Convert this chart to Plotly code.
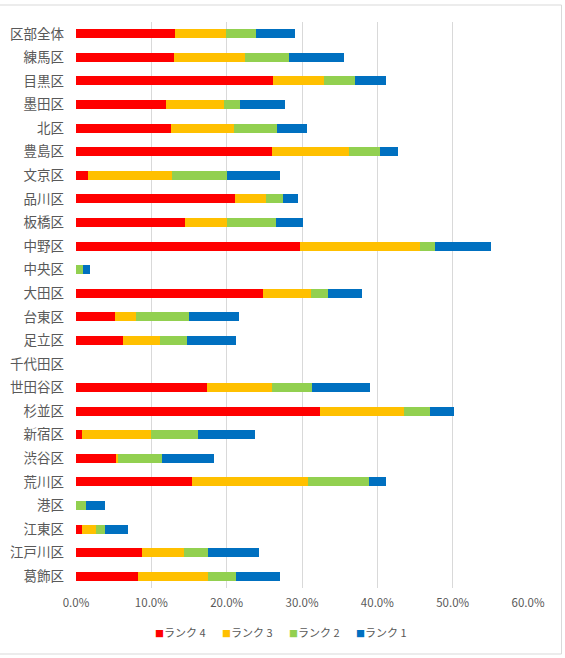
import plotly.graph_objects as go

categories = ["区部全体", "練馬区", "目黒区", "墨田区", "北区", "豊島区", "文京区", "品川区",
              "板橋区", "中野区", "中央区", "大田区", "台東区", "足立区", "千代田区", "世田谷区",
              "杉並区", "新宿区", "渋谷区", "荒川区", "港区", "江東区", "江戸川区", "葛飾区"]

rank4 = [13.1, 13.05, 26.1, 11.95, 12.65, 26.0, 1.6, 21.1, 14.5, 29.7, 0.0, 24.8,
         5.2, 6.3, 0.0, 17.35, 32.4, 0.75, 5.4, 15.45, 0.0, 0.85, 8.7, 8.2]
rank3 = [6.8, 9.4, 6.8, 7.75, 8.35, 10.2, 11.15, 4.1, 5.6, 16.0, 0.0, 6.4,
         2.7, 4.8, 0.0, 8.65, 11.2, 9.25, 0.2, 15.35, 0.0, 1.8, 5.65, 9.3]
rank2 = [4.0, 5.8, 4.2, 2.1, 5.7, 4.2, 7.35, 2.3, 6.4, 1.9, 0.9, 2.3,
         7.15, 3.6, 0.0, 5.3, 3.4, 6.2, 5.8, 8.1, 1.33, 1.15, 3.15, 3.8]
rank1 = [5.2, 7.3, 4.0, 6.0, 4.0, 2.3, 6.95, 2.0, 3.6, 7.5, 1.0, 4.4,
         6.65, 6.6, 0.0, 7.7, 3.2, 7.5, 6.9, 2.3, 2.57, 3.15, 6.85, 5.75]

series_names = ["ランク 4", "ランク 3", "ランク 2", "ランク 1"]
series_values = [rank4, rank3, rank2, rank1]
series_colors = ["#FF0000", "#FFC000", "#92D050", "#0070C0"]

x_ticks = [0, 10, 20, 30, 40, 50, 60]
x_tick_labels = ["0.0%", "10.0%", "20.0%", "30.0%", "40.0%", "50.0%", "60.0%"]

FONT = "Noto Sans CJK JP, Noto Sans, sans-serif"

fig = go.Figure()
for name, vals, col in zip(series_names, series_values, series_colors):
    fig.add_trace(go.Bar(
        y=categories, x=vals, name=name, orientation="h",
        marker=dict(color=col, line=dict(width=0)),
        showlegend=False,
    ))

W, H = 565, 658
L, R, T, B = 76, 37, 22, 70
pw, ph = W - L - R, H - T - B

def px_x(p):
    return (p - L) / pw

def px_y(p):
    return (H - B - p) / ph

# legend drawn as annotations (compact Excel-style legend)
legend_start, legend_step = 153, 67
annotations = []
for i, (name, col) in enumerate(zip(series_names, series_colors)):
    annotations.append(dict(
        xref="paper", yref="paper",
        x=px_x(legend_start + i * legend_step), y=px_y(632),
        xanchor="left", yanchor="middle", showarrow=False,
        text=f"<span style='color:{col};font-size:9px'>■</span>{name}",
        font=dict(family=FONT, size=11, color="#595959"),
    ))

fig.update_layout(
    width=W, height=H,
    margin=dict(l=L, r=R, t=T, b=B, autoexpand=False),
    barmode="stack", bargap=0.62,
    plot_bgcolor="white", paper_bgcolor="white",
    font=dict(family=FONT, color="#595959"),
    xaxis=dict(range=[0, 60], tickvals=x_ticks, ticktext=x_tick_labels,
               showgrid=True, gridcolor="#d9d9d9", gridwidth=1,
               zeroline=False, showline=False, ticks="", ticklabelstandoff=6,
               tickfont=dict(size=11.5, color="#595959")),
    yaxis=dict(autorange="reversed", showgrid=False, zeroline=False, showline=False,
               ticks="", ticklabelstandoff=11,
               tickfont=dict(size=13.5, color="#595959")),
    showlegend=False,
    annotations=annotations,
    shapes=[dict(type="rect", xref="paper", yref="paper",
                 x0=px_x(-2), x1=px_x(561.5), y0=px_y(654), y1=px_y(5),
                 line=dict(color="#d9d9d9", width=1), layer="below")],
)

fig.write_html("out.html")
